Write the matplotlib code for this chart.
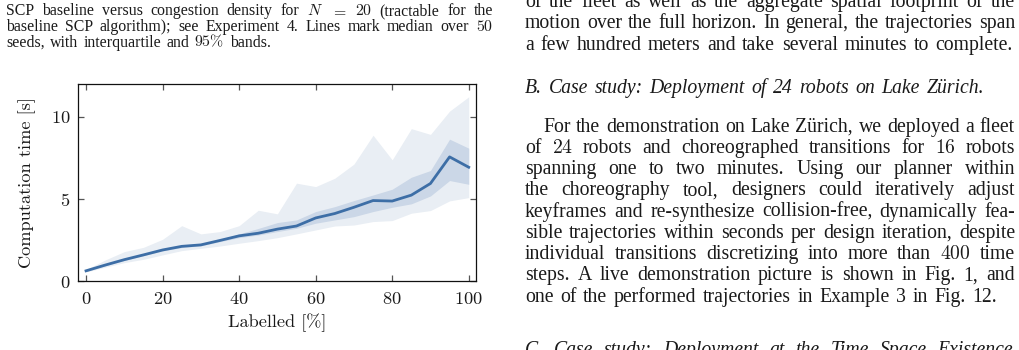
import matplotlib
matplotlib.use("Agg")
import matplotlib.pyplot as plt
from matplotlib.transforms import IdentityTransform

# data
pct = [0, 5, 10, 15, 20, 25, 30, 35, 40, 45, 50, 55, 60, 65, 70, 75, 80, 85, 90, 95, 100]
median = [0.62, 0.97, 1.30, 1.59, 1.89, 2.11, 2.20, 2.47, 2.75, 2.91, 3.16, 3.35, 3.84, 4.11,
          4.49, 4.90, 4.87, 5.23, 5.94, 7.56, 6.93]
iqr_lo = [0.58, 0.92, 1.25, 1.54, 1.83, 2.04, 2.14, 2.40, 2.64, 2.80, 3.01, 3.21, 3.52, 3.72,
          3.92, 4.23, 4.49, 4.70, 5.18, 6.12, 5.89]
iqr_hi = [0.66, 1.02, 1.36, 1.65, 1.95, 2.17, 2.27, 2.53, 2.87, 3.20, 3.56, 3.72, 4.23, 4.53,
          4.90, 5.24, 5.59, 6.32, 6.73, 8.64, 8.09]
p95_lo = [0.55, 0.84, 1.12, 1.32, 1.59, 1.85, 1.99, 2.13, 2.30, 2.46, 2.64, 2.87, 3.11, 3.35,
          3.41, 3.62, 3.68, 4.13, 4.29, 4.88, 5.08]
p95_hi = [0.70, 1.28, 1.79, 2.05, 2.54, 3.37, 2.87, 3.01, 3.37, 4.31, 4.09, 5.96, 5.75, 6.26,
          7.12, 8.88, 7.38, 9.28, 8.93, 10.35, 11.22]
xticks = [0, 20, 40, 60, 80, 100]
yticks = [0, 5, 10]

caption = [
    "SCP baseline versus congestion density for $N$ $=$ $20$ (tractable for the",
    "baseline SCP algorithm); see Experiment 4. Lines mark median over $50$",
    "seeds, with interquartile and $95\\%$ bands.",
]
top_lines = [
    "of the fleet as well as the aggregate spatial footprint of the",
    "motion over the full horizon. In general, the trajectories span",
    "a few hundred meters and take several minutes to complete.",
]
head_b = "B.  Case study: Deployment of 24 robots on Lake Zürich."
para = [
    "For the demonstration on Lake Zürich, we deployed a fleet",
    "of $24$ robots and choreographed transitions for $16$ robots",
    "spanning one to two minutes. Using our planner within",
    "the choreography tool, designers could iteratively adjust",
    "keyframes and re-synthesize collision-free, dynamically fea-",
    "sible trajectories within seconds per design iteration, despite",
    "individual transitions discretizing into more than $400$ time",
    "steps. A live demonstration picture is shown in Fig. 1, and",
    "one of the performed trajectories in Example 3 in Fig. 12.",
]
head_c = "C. Case study: Deployment at the Time Space Existence"

plt.rcParams["font.family"] = "cmr10"
plt.rcParams["axes.formatter.use_mathtext"] = True
plt.rcParams["mathtext.fontset"] = "cm"

W, H = 1020, 350
fig = plt.figure(figsize=(W / 100, H / 100), dpi=100)
R = fig.canvas.get_renderer()
ink = "#1a1a1a"


def put_line(text, x0, x1, y, size, style="normal", justify=True, gap_em=0.33):
    words = text.split()
    ts = [fig.text(0, H - y, w, transform=IdentityTransform(), fontsize=size,
                   family="Liberation Serif", style=style, va="baseline", ha="left",
                   color=ink) for w in words]
    ws = [t.get_window_extent(R).width for t in ts]
    if justify and len(ws) > 1:
        gap = (x1 - x0 - sum(ws)) / (len(ws) - 1)
    else:
        gap = size * 100 / 72 * gap_em
    x = x0
    for t, w in zip(ts, ws):
        t.set_x(x)
        x += w + gap


# left caption
cap_size = 11.4
for i, s in enumerate(caption):
    put_line(s, 6, 493, 15 + 15.8 * i, cap_size, justify=i < 2)

# right column text
body = 14.2
for i, s in enumerate(top_lines):
    put_line(s, 525, 1015, 7 + 21.4 * i, body, justify=i < 2)
put_line(head_b, 525, 990, 92.7, body, style="italic", justify=False)
for i, s in enumerate(para):
    x0 = 543 if i == 0 else 525
    put_line(s, x0, 1015, 131.7 + 21.25 * i, body, justify=i < len(para) - 1)
put_line(head_c, 525, 1013, 355, body, style="italic")

# chart
ax = fig.add_axes([78 / W, 1 - 281 / H, 398 / W, 197 / H])
ax.fill_between(pct, p95_lo, p95_hi, color="#e9eef4", lw=0)
ax.fill_between(pct, iqr_lo, iqr_hi, color="#cbd7e7", lw=0)
ax.plot(pct, median, color="#3d6ea6", lw=2.0)

ax.set_xlim(-2.1, 101.9)
ax.set_ylim(0, 12)
ax.set_xticks(xticks)
ax.set_yticks(yticks)
ax.tick_params(direction="in", top=True, right=True, length=4.5, width=0.9,
               color="#555555", labelsize=13.2, labelcolor=ink)
ax.tick_params(axis="x", pad=7)
ax.tick_params(axis="y", pad=5.5)
for sp in ax.spines.values():
    sp.set_linewidth(0.9)
    sp.set_color("#111111")

ax.set_xlabel("Labelled [%]", fontsize=13.2, color=ink)
ax.set_ylabel("Computation time [s]", fontsize=13.2, color=ink)
ax.xaxis.set_label_coords(0.5, -0.165)
ax.yaxis.set_label_coords(-0.105, 0.5)

fig.savefig("out.png", dpi=100)
